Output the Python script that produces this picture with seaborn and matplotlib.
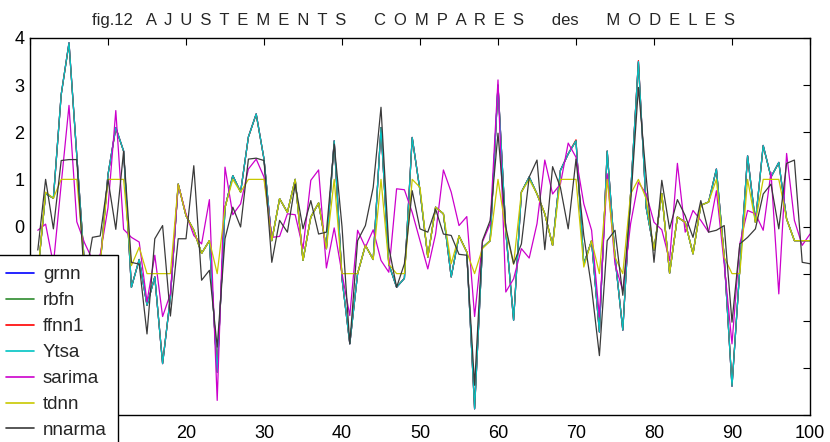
import numpy as np
import pandas as pd
import matplotlib
matplotlib.use("Agg")
import matplotlib.pyplot as plt
import seaborn as sns

t = list(range(1, 101))

ytsa = [-1.0, 0.7, 0.6, 2.8, 3.9, 1.5, -0.85, -1.6, -0.8, 1.1,
        2.1, 1.6, -1.29, -0.7, -1.67, -1.07, -2.91, -1.5, 0.9, 0.23,
        -0.08, -0.57, -0.3, -3.09, 0.4, 1.08, 0.73, 1.9, 2.39, 1.43,
        -0.3, 0.59, 0.3, 1.0, -0.72, 0.2, 0.5, -0.47, 1.82, -1.1,
        -2.49, -1.0, -0.4, -0.7, 2.1, -0.8, -1.29, -1.1, 1.89, 0.76,
        -0.65, 0.41, 0.27, -1.07, -0.2, -0.54, -3.87, -0.45, -0.3, 3.0,
        -0.1, -1.99, 0.73, 1.05, 0.69, 0.27, -0.4, 1.19, 1.54, 1.82,
        -0.8, -0.3, -2.24, 1.6, -0.65, -2.2, 0.69, 3.5, 0.4, -0.5,
        0.7, -0.99, 0.2, 0.09, -0.58, 0.45, 0.52, 1.22, -0.65, -3.39,
        -0.9, 1.5, 0.09, 1.72, 1.05, 1.36, 0.16, -0.3, -0.3, -0.3]

grnn = [-1.0, 0.7, 0.6, 2.8, 3.9, 1.5, -0.85, -1.6, -0.8, 1.1,
        2.1, 1.6, -1.29, -0.7, -1.67, -1.07, -2.91, -1.5, 0.9, 0.23,
        -0.08, -0.57, -0.3, -3.09, 0.4, 1.08, 0.73, 1.9, 2.39, 1.43,
        -0.3, 0.59, 0.3, 1.0, -0.72, 0.2, 0.5, -0.47, 1.82, -1.1,
        -2.49, -1.0, -0.4, -0.7, 2.1, -0.8, -1.29, -1.1, 1.89, 0.76,
        -0.65, 0.41, 0.27, -1.07, -0.2, -0.54, -3.87, -0.45, -0.3, 3.0,
        -0.1, -1.99, 0.73, 1.05, 0.69, 0.27, -0.4, 1.19, 1.54, 1.82,
        -0.8, -0.3, -2.24, 1.6, -0.65, -2.2, 0.69, 3.5, 0.4, -0.5,
        0.7, -0.99, 0.2, 0.09, -0.58, 0.45, 0.52, 1.22, -0.65, -3.39,
        -0.9, 1.5, 0.09, 1.72, 1.05, 1.36, 0.16, -0.3, -0.3, -0.3]

rbfn = [-1.0, 0.7, 0.6, 2.8, 3.88, 1.5, -0.85, -1.6, -0.8, 1.1,
        2.08, 1.6, -1.29, -0.7, -1.67, -1.07, -2.9, -1.5, 0.9, 0.23,
        -0.08, -0.57, -0.3, -3.08, 0.4, 1.08, 0.73, 1.9, 2.38, 1.43,
        -0.3, 0.59, 0.3, 1.0, -0.72, 0.2, 0.5, -0.47, 1.8, -1.1,
        -2.48, -1.0, -0.4, -0.7, 2.1, -0.8, -1.28, -1.1, 1.88, 0.76,
        -0.65, 0.41, 0.27, -1.07, -0.2, -0.54, -3.85, -0.45, -0.3, 2.98,
        -0.1, -1.98, 0.73, 1.05, 0.69, 0.27, -0.4, 1.19, 1.54, 1.82,
        -0.8, -0.3, -2.23, 1.6, -0.65, -2.19, 0.69, 3.48, 0.4, -0.5,
        0.7, -0.99, 0.2, 0.09, -0.58, 0.45, 0.52, 1.21, -0.65, -3.37,
        -0.9, 1.49, 0.09, 1.71, 1.05, 1.35, 0.16, -0.3, -0.3, -0.3]

ffnn1 = [-1.0, 0.7, 0.6, 2.8, 3.9, 1.5, -0.85, -1.6, -0.8, 1.1,
         2.1, 1.6, -1.29, -0.7, -1.67, -1.07, -2.91, -1.5, 0.9, 0.23,
         -0.08, -0.57, -0.3, -3.09, 0.4, 1.08, 0.73, 1.9, 2.39, 1.43,
         -0.3, 0.59, 0.3, 1.0, -0.72, 0.2, 0.5, -0.47, 1.82, -1.1,
         -2.49, -1.0, -0.4, -0.7, 2.1, -0.8, -1.29, -1.1, 1.89, 0.76,
         -0.65, 0.41, 0.27, -1.07, -0.2, -0.54, -3.87, -0.45, -0.3, 3.0,
         -0.1, -1.99, 0.73, 1.05, 0.69, 0.27, -0.4, 1.19, 1.54, 1.84,
         -0.8, -0.3, -2.24, 1.6, -0.65, -2.2, 0.69, 3.52, 0.4, -0.5,
         0.7, -0.99, 0.2, 0.09, -0.58, 0.45, 0.52, 1.22, -0.65, -3.39,
         -0.9, 1.5, 0.09, 1.72, 1.05, 1.36, 0.16, -0.3, -0.3, -0.3]

sarima = [-0.08, 0.05, -0.8, 0.9, 2.57, 0.1, -0.35, -0.7, -0.6, 0.4,
          2.46, -0.06, -0.23, -0.33, -1.6, -0.61, -1.91, -1.43, 0.89, 0.27,
          -0.19, -0.37, 0.57, -3.69, 1.26, 0.25, 0.48, 1.22, 1.43, 1.05,
          -0.23, -0.21, 0.27, 0.25, -0.47, 0.98, 1.2, -0.88, -0.03, -1.0,
          -1.89, -0.08, -0.44, -0.07, -0.72, -0.97, 0.8, 0.78, 0.3, -0.3,
          -0.9, -0.16, 1.2, 0.73, 0.02, 0.21, -1.91, -0.33, 0.06, 3.11,
          -1.39, -1.11, -0.47, -0.67, 0.06, 1.41, 0.69, 0.9, 1.77, 1.47,
          0.48, -0.08, -1.92, 1.12, -0.8, -1.36, 0.06, 0.94, 0.69, 0.09,
          -0.07, -0.72, 1.34, -0.12, 0.34, 0.13, -0.12, 0.76, -0.8, -2.49,
          -0.37, 0.34, 0.27, -0.08, 1.15, -1.43, 1.55, 0.13, -0.4, -0.16]

tdnn = [-1.0, 0.73, 0.6, 1.0, 1.0, 1.0, -0.85, -1.0, -0.8, 1.0,
        1.0, 1.0, -0.83, -0.44, -1.0, -1.0, -1.0, -1.0, 0.9, 0.23,
        -0.08, -0.57, -0.3, -1.0, 0.4, 1.0, 0.73, 1.0, 1.0, 1.0,
        -0.3, 0.59, 0.3, 1.0, -0.72, 0.2, 0.5, -0.47, 1.0, -1.0,
        -1.0, -1.0, -0.4, -0.7, 1.0, -0.8, -1.0, -1.0, 1.0, 0.83,
        -0.65, 0.41, 0.27, -0.79, -0.2, -0.54, -1.0, -0.47, -0.3, 1.0,
        -0.08, -0.8, 0.73, 1.0, 0.69, 0.27, -0.4, 1.0, 1.0, 1.0,
        -0.86, -0.3, -1.0, 1.0, -0.65, -1.0, 0.69, 1.0, 0.59, -0.5,
        0.7, -0.99, 0.2, 0.09, -0.58, 0.45, 0.52, 1.0, -0.65, -1.0,
        -1.0, 1.0, 0.09, 1.0, 1.0, 1.0, 0.16, -0.3, -0.3, -0.3]

nnarma = [-0.5, 1.0, -0.05, 1.4, 1.42, 1.42, -1.2, -0.23, -0.2, 1.0,
          -0.06, 1.6, -0.76, -0.8, -2.28, -0.26, 0.02, -1.9, -0.26, -0.26,
          1.29, -1.14, -0.93, -2.56, -0.26, 0.41, -0.01, 1.43, 1.45, 1.4,
          -0.76, 0.13, -0.12, 0.9, -0.05, 0.55, -0.16, -0.12, 1.75, 0.0,
          -2.49, -0.3, 0.02, 0.83, 2.53, -0.44, -1.29, -0.79, 0.76, -0.05,
          -0.12, 0.37, -0.16, -0.19, -0.59, -0.61, -3.37, -0.3, 0.13, 1.98,
          -0.01, -0.79, -0.37, 1.05, 1.41, -0.49, 1.27, 0.83, -0.05, 1.43,
          -0.19, -1.3, -2.74, -0.3, -0.08, -1.46, 0.5, 2.95, 1.05, -0.76,
          0.98, -0.05, 0.57, 0.23, -0.23, 0.55, -0.12, -0.08, 0.02, -2.03,
          -0.37, -0.23, -0.05, 0.69, 0.9, -0.05, 1.34, 1.41, -0.76, -0.79]

models = ["grnn", "rbfn", "ffnn1", "Ytsa", "sarima", "tdnn", "nnarma"]
series = [grnn, rbfn, ffnn1, ytsa, sarima, tdnn, nnarma]
colors = ["#0000ff", "#2e8b2e", "#ff0000", "#00c4c4", "#cc00cc", "#c8c800", "#3a3a3a"]

xticks = list(range(0, 101, 10))
xticklabels = ["", "", "20", "30", "40", "50", "60", "70", "80", "90", "100"]
yticks = list(range(-4, 5))
yticklabels = ["", "", "", "", "0", "1", "2", "3", "4"]

df = pd.concat([pd.DataFrame({"t": t, "value": s, "model": m})
                for m, s in zip(models, series)], ignore_index=True)

sns.set_style("white")
plt.rcParams["font.family"] = ["Liberation Sans", "DejaVu Sans"]

fig = plt.figure(figsize=(8.3, 4.42), dpi=100)
ax = fig.add_axes([30 / 830, 27 / 442, 780 / 830, 377 / 442])

sns.lineplot(data=df, x="t", y="value", hue="model", hue_order=models,
             palette=dict(zip(models, colors)), linewidth=0.9, ax=ax,
             legend=False, estimator=None, sort=False)

ax.set_xlim(0, 100)
ax.set_ylim(-4, 4)
ax.set_xticks(xticks)
ax.set_xticklabels(xticklabels)
ax.set_yticks(yticks)
ax.set_yticklabels(yticklabels)
ax.set_xlabel("")
ax.set_ylabel("")
ax.tick_params(direction="in", length=5, width=0.8, colors="black",
               labelsize=13, top=True, right=True)
ax.tick_params(axis="x", pad=7)
ax.tick_params(axis="y", pad=4)
for sp in ax.spines.values():
    sp.set_visible(True)
    sp.set_color("black")
    sp.set_linewidth(1.0)

sp1 = " \u2009"
def spaced(word):
    return sp1.join(word)

title = ("fig.12" + "   " + spaced("AJUSTEMENTS") + "      " + spaced("COMPARES")
         + "      " + "des" + "      " + spaced("MODELES"))
ax.set_title(title, fontsize=12, pad=9, x=0.492)

handles = ax.get_lines()[:len(models)]
leg = ax.legend(handles, models, loc="upper left",
                bbox_to_anchor=(-5 / 830, 1 - 255 / 442), bbox_transform=fig.transFigure,
                fontsize=13.5, frameon=True, fancybox=False, framealpha=1,
                edgecolor="black", borderpad=0.6, labelspacing=0.47,
                handlelength=1.5, handletextpad=0.45, borderaxespad=0)
leg.get_frame().set_linewidth(1.0)
for ln in leg.get_lines():
    ln.set_linewidth(1.2)

fig.savefig("out.png", dpi=100)
